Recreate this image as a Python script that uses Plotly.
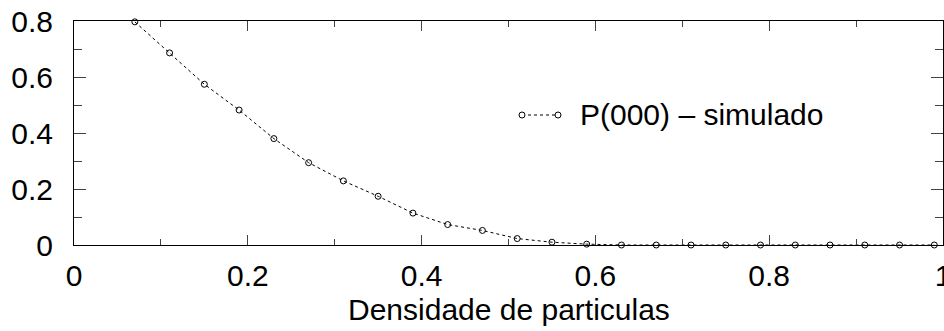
import plotly.graph_objects as go

density = [0.07, 0.11, 0.15, 0.19, 0.23, 0.27, 0.31, 0.35, 0.39, 0.43, 0.47, 0.51,
           0.55, 0.59, 0.63, 0.67, 0.71, 0.75, 0.79, 0.83, 0.87, 0.91, 0.95, 0.99]
p000 = [0.797, 0.686, 0.574, 0.482, 0.380, 0.294, 0.229, 0.174, 0.114, 0.073, 0.052, 0.023,
        0.010, 0.003, 0.0, 0.0, 0.0, 0.0, 0.0, 0.0, 0.0, 0.0, 0.0, 0.0]
x_ticks = [0, 0.2, 0.4, 0.6, 0.8, 1.0]
x_tick_labels = ["0", "0.2", "0.4", "0.6", "0.8", "1"]
y_ticks = [0, 0.2, 0.4, 0.6, 0.8]
y_tick_labels = ["0", "0.2", "0.4", "0.6", "0.8"]
series_name = "P(000) \u2013 simulado"
x_title = "Densidade de particulas"

W, H = 944, 331
L, R, T, B = 74, 943, 21, 245  # plot area pixels
FONT = "Liberation Sans, Arial, Helvetica, sans-serif"
FS = 30

def px_x(p):
    return (p - L) / (R - L)

def px_y(p):
    return (B - p) / (B - T)

fig = go.Figure()
fig.add_trace(go.Scatter(
    x=density, y=p000, mode="lines+markers", name=series_name,
    line=dict(color="black", width=1, dash="dot"),
    marker=dict(symbol="circle-open", size=6, color="black", line=dict(width=1)),
    cliponaxis=False, showlegend=False,
))

axis_common = dict(
    showgrid=False, zeroline=False, showline=True, linecolor="black", linewidth=1,
    mirror="allticks", ticks="inside", tickcolor="#444", tickwidth=1,
    tickfont=dict(family=FONT, size=FS, color="black"),
    ticklabeloverflow="allow", automargin=False,
)
fig.update_xaxes(range=[0, 1], tickvals=x_ticks, ticktext=x_tick_labels, ticklen=10,
                 ticklabelstandoff=4,
                 minor=dict(tickvals=[0.1, 0.3, 0.5, 0.7, 0.9], ticks="inside", ticklen=6,
                            tickcolor="#444"),
                 **axis_common)
fig.update_yaxes(range=[0, 0.8], tickvals=y_ticks, ticktext=y_tick_labels, ticklen=12,
                 ticklabelstandoff=14,
                 minor=dict(tickvals=[0.1, 0.3, 0.5, 0.7], ticks="inside", ticklen=8,
                            tickcolor="#444"),
                 **axis_common)

# legend sample drawn manually
ly = 115
fig.add_shape(type="line", xref="paper", yref="paper",
              x0=px_x(522), x1=px_x(558), y0=px_y(ly), y1=px_y(ly),
              line=dict(color="black", width=1, dash="dot"))
for cx in (522, 558):
    fig.add_shape(type="circle", xref="paper", yref="paper", xsizemode="pixel", ysizemode="pixel",
                  xanchor=px_x(cx), yanchor=px_y(ly), x0=-3, x1=3, y0=-3, y1=3,
                  line=dict(color="black", width=1), fillcolor="white")
fig.add_annotation(text=series_name, xref="paper", yref="paper", x=px_x(578), y=px_y(ly),
                   xanchor="left", yanchor="middle", showarrow=False,
                   font=dict(family=FONT, size=FS, color="black"))
fig.add_annotation(text=x_title, xref="paper", yref="paper", x=px_x(509), y=px_y(309),
                   xanchor="center", yanchor="middle", showarrow=False,
                   font=dict(family=FONT, size=FS, color="black"))

fig.update_layout(
    width=W, height=H,
    margin=dict(l=L, r=W - R, t=T, b=H - B, pad=0, autoexpand=False),
    paper_bgcolor="white", plot_bgcolor="white", showlegend=False,
)
fig.write_html("out.html")
